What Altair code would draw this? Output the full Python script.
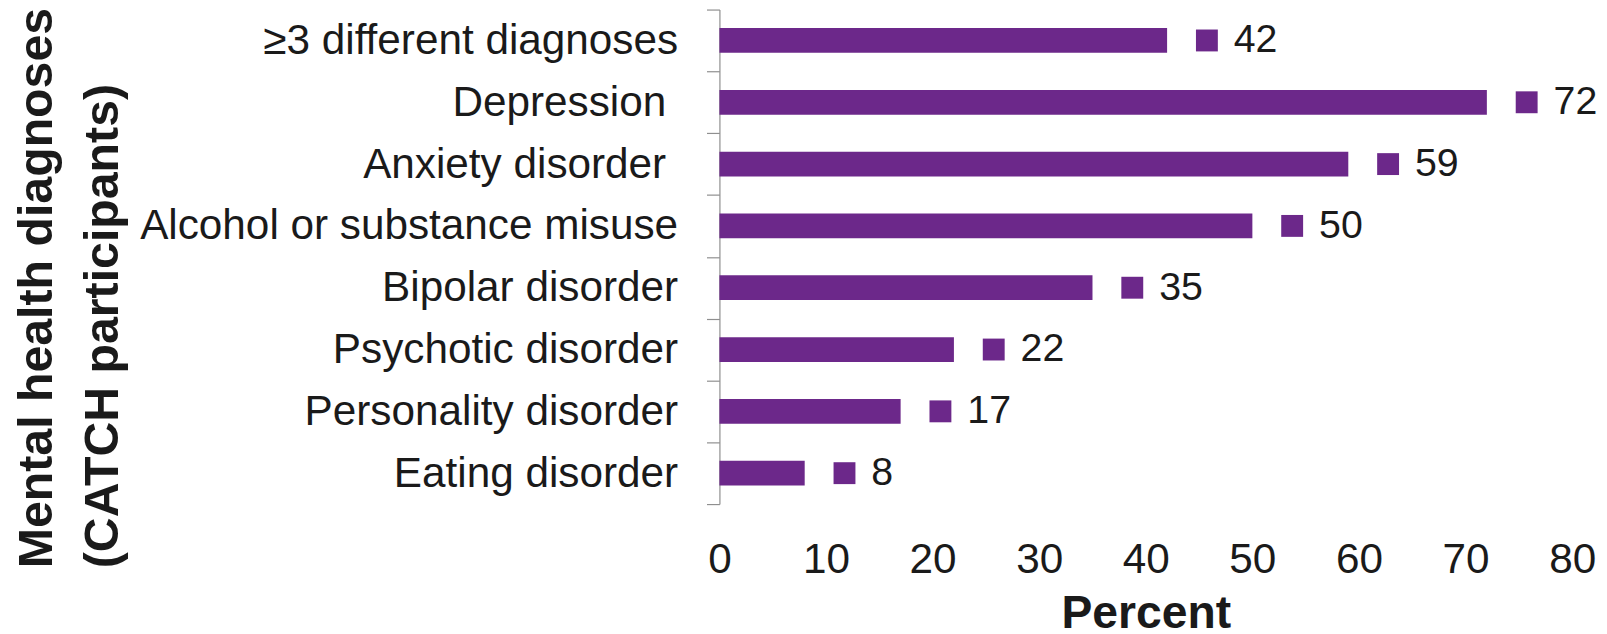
import altair as alt
import pandas as pd

categories = [
    "≥3 different diagnoses",
    "Depression",
    "Anxiety disorder",
    "Alcohol or substance misuse",
    "Bipolar disorder",
    "Psychotic disorder",
    "Personality disorder",
    "Eating disorder",
]
percent = [42, 72, 59, 50, 35, 22, 17, 8]
x_ticks = [0, 10, 20, 30, 40, 50, 60, 70, 80]
trailing_space_labels = ["Depression", "Anxiety disorder"]

df = pd.DataFrame({"cat": categories, "pct": percent})

FONT = "Liberation Sans"
PURPLE = "#6C288A"
TEXT = "#1a1a1a"

test_expr = "indexof(" + str(trailing_space_labels) + ", datum.value) >= 0"

x_enc = alt.X(
    "pct:Q",
    scale=alt.Scale(domain=[0, 80], nice=False, zero=True),
    axis=alt.Axis(
        values=x_ticks,
        title="Percent",
        grid=False,
        domain=False,
        ticks=False,
        tickSize=0,
        labelFontSize=42.5,
        labelFont=FONT,
        labelColor=TEXT,
        labelPadding=35,
        labelFlush=False,
        titleFontSize=46.5,
        titleFont=FONT,
        titleFontWeight="bold",
        titleColor=TEXT,
        titleBaseline="alphabetic",
        titleY=124,
    ),
)

y_enc = alt.Y(
    "cat:N",
    sort=categories,
    scale=alt.Scale(paddingInner=0, paddingOuter=0),
    axis=alt.Axis(
        title=["Mental health diagnoses", "(CATCH participants)"],
        grid=False,
        domain=True,
        domainColor="#8f8f8f",
        domainWidth=1.2,
        ticks=True,
        tickBand="extent",
        tickSize=13,
        tickColor="#8f8f8f",
        tickWidth=1.2,
        labelFontSize=42.5,
        labelFont=FONT,
        labelColor=TEXT,
        labelPadding={"condition": {"test": test_expr, "value": 41}, "value": 29},
        labelLimit=700,
        titleFontSize=48.5,
        titleFont=FONT,
        titleFontWeight="bold",
        titleColor=TEXT,
        titleAngle=270,
        titleAlign="left",
        titleBaseline="alphabetic",
        titleLineHeight=66,
        titleX=-671,
        titleY=561,
    ),
)

base = alt.Chart(df)

bars = base.mark_bar(color=PURPLE, height=alt.RelativeBandSize(band=0.4)).encode(
    x=x_enc, y=y_enc
)
squares = base.mark_square(size=484, xOffset=40, color=PURPLE, opacity=1).encode(
    x="pct:Q", y=alt.Y("cat:N", sort=categories)
)
labels = base.mark_text(
    align="left", baseline="middle", xOffset=67, fontSize=39.5, font=FONT, color=TEXT
).encode(x="pct:Q", y=alt.Y("cat:N", sort=categories), text="pct:Q")

chart = (
    alt.layer(bars, squares, labels)
    .properties(
        width=857,
        height=497,
        autosize=alt.AutoSizeParams(type="none"),
        padding={"left": 715, "top": 0, "right": 27, "bottom": 126},
    )
    .configure_view(stroke=None)
)

chart.save("out.html", embed_options={"renderer": "svg", "actions": False})
